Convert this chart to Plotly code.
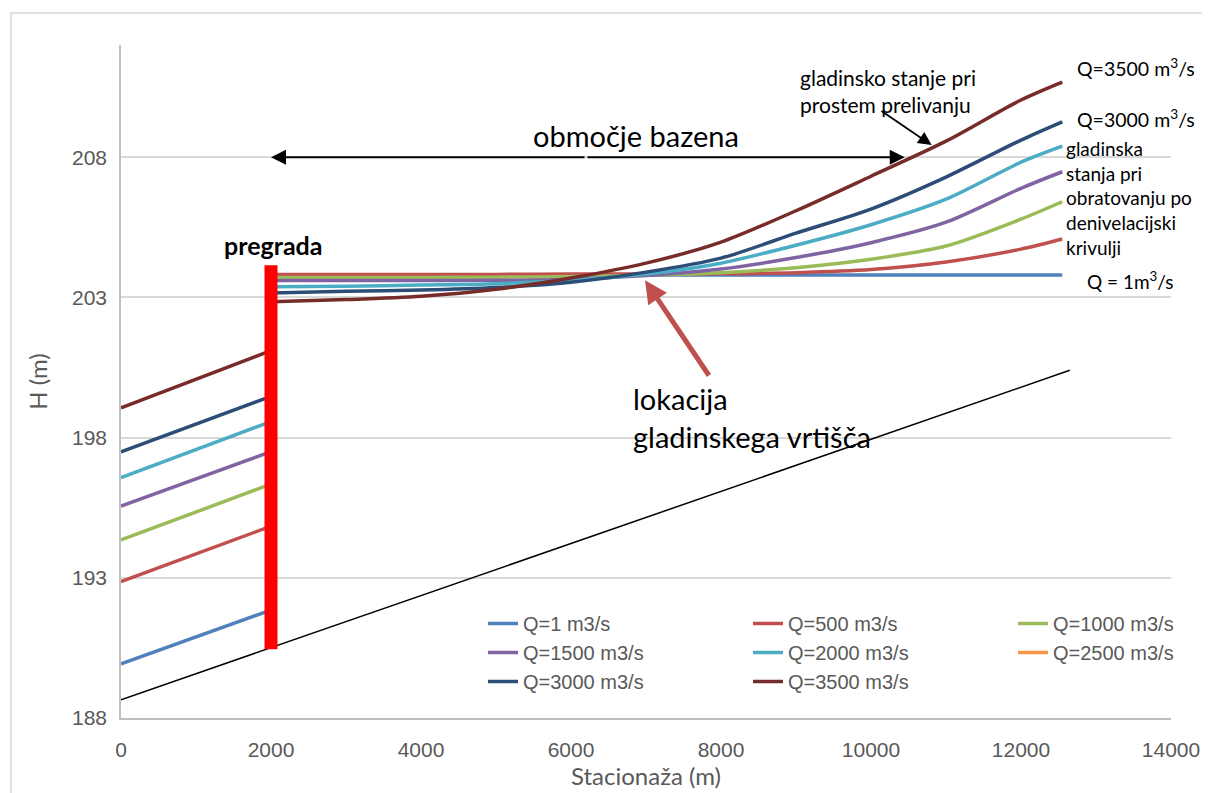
import plotly.graph_objects as go

# ---- data ----
down_x = [0, 2000]
up_x = [2000, 3000, 4000, 5000, 6000, 7000, 8000, 9000, 10000, 11000, 12000, 12550]

names = ["Q=1 m3/s", "Q=500 m3/s", "Q=1000 m3/s", "Q=1500 m3/s", "Q=2000 m3/s",
         "Q=2500 m3/s", "Q=3000 m3/s", "Q=3500 m3/s"]
colors = ["#4f81bd", "#c0504d", "#9bbb59", "#8064a2", "#4bacc6", "#f79646", "#2c4d75", "#772c2a"]

q1_down = [189.93, 191.85]
q1_up = [203.80, 203.80, 203.80, 203.80, 203.80, 203.80, 203.80, 203.80, 203.80, 203.80, 203.80, 203.80]
q500_down = [192.86, 194.84]
q500_up = [203.82, 203.82, 203.82, 203.82, 203.83, 203.83, 203.84, 203.88, 203.99, 204.26, 204.72, 205.08]
q1000_down = [194.35, 196.34]
q1000_up = [203.71, 203.71, 203.71, 203.72, 203.74, 203.79, 203.88, 204.06, 204.36, 204.83, 205.79, 206.41]
q1500_down = [195.56, 197.50]
q1500_up = [203.60, 203.60, 203.60, 203.61, 203.65, 203.78, 204.01, 204.42, 204.95, 205.68, 206.89, 207.48]
q2000_down = [196.57, 198.57]
q2000_up = [203.38, 203.40, 203.44, 203.49, 203.61, 203.83, 204.22, 204.86, 205.59, 206.50, 207.82, 208.39]
q2500_down = [None]
q2500_up = [None]
q3000_down = [197.49, 199.47]
q3000_up = [203.16, 203.22, 203.26, 203.35, 203.54, 203.90, 204.40, 205.29, 206.15, 207.29, 208.61, 209.26]
q3500_down = [199.06, 201.10]
q3500_up = [202.84, 202.92, 203.04, 203.29, 203.69, 204.22, 204.97, 206.09, 207.32, 208.57, 210.04, 210.68]

series_down = [q1_down, q500_down, q1000_down, q1500_down, q2000_down, q2500_down, q3000_down, q3500_down]
series_up = [q1_up, q500_up, q1000_up, q1500_up, q2000_up, q2500_up, q3000_up, q3500_up]

bed_x = [0, 12650]
bed_y = [188.65, 200.40]

dam_x = [2000, 2000]
dam_y = [190.45, 204.15]

y_ticks = [188, 193, 198, 203, 208]

TICK_FONT = "Liberation Sans Narrow, Arial Narrow, sans-serif"
TEXT_FONT = "Lato, Carlito, Calibri, sans-serif"
GRAY = "#595959"

fig = go.Figure()

for name, col, d, u in zip(names, colors, series_down, series_up):
    if len(d) == len(down_x):
        # downstream of the dam (straight segment)
        fig.add_trace(go.Scatter(x=down_x, y=d, mode="lines", name=name,
                                 showlegend=False, line=dict(color=col, width=3.5)))
        # reservoir (smoothed)
        fig.add_trace(go.Scatter(x=up_x, y=u, mode="lines", name=name,
                                 line=dict(color=col, width=3.5, shape="spline", smoothing=0.8)))
    else:
        fig.add_trace(go.Scatter(x=[None], y=d, mode="lines", name=name,
                                 line=dict(color=col, width=3.5)))

fig.add_trace(go.Scatter(x=bed_x, y=bed_y, mode="lines", showlegend=False,
                         line=dict(color="black", width=1.5)))
fig.add_trace(go.Scatter(x=dam_x, y=dam_y, mode="lines", showlegend=False,
                         line=dict(color="#ff0000", width=13)))

ann = []
# double arrow "območje bazena"
ann.append(dict(x=2000, y=208, ax=6200, ay=208, xref="x", yref="y", axref="x", ayref="y",
                showarrow=True, arrowhead=2, arrowsize=1.5, arrowwidth=2, arrowcolor="black", text=""))
ann.append(dict(x=10450, y=208, ax=6200, ay=208, xref="x", yref="y", axref="x", ayref="y",
                showarrow=True, arrowhead=2, arrowsize=1.5, arrowwidth=2, arrowcolor="black", text=""))
# arrow to prosto prelivanje
ann.append(dict(x=10809, y=208.43, ax=10120, ay=209.68, xref="x", yref="y", axref="x", ayref="y",
                showarrow=True, arrowhead=2, arrowsize=1.5, arrowwidth=1.8, arrowcolor="black", text=""))
# red arrow to pivot
ann.append(dict(x=6987, y=203.61, ax=7853, ay=200.16, xref="x", yref="y", axref="x", ayref="y",
                showarrow=True, arrowhead=2, arrowsize=0.9, arrowwidth=5, arrowcolor="#c0504d", text=""))

def label(txt, x, y, size, bold=False, color="black"):
    return dict(x=x, y=y, xref="x", yref="y", text=("<b>%s</b>" % txt) if bold else txt,
                showarrow=False, xanchor="left", yanchor="middle", align="left",
                font=dict(family=TEXT_FONT, size=size, color=color))

ann.append(label("območje bazena", 5467, 208.78, 29))
ann.append(label("gladinsko stanje pri<br>prostem prelivanju", 9027, 210.35, 21))
ann.append(label("Q=3500 m<sup>3</sup>/s", 12720, 211.21, 19.5))
ann.append(label("Q=3000 m<sup>3</sup>/s", 12720, 209.39, 19.5))
ann.append(label("gladinska<br>stanja pri<br>obratovanju po<br>denivelacijski<br>krivulji", 12573, 206.54, 19))
ann.append(label("Q = 1m<sup>3</sup>/s", 12853, 203.61, 19))
ann.append(label("pregrada", 1347, 204.86, 25, bold=True))
ann.append(label("lokacija<br>gladinskega vrtišča", 6800, 198.70, 29))

# page body has an 8px margin, so the figure is drawn 8px in from the top-left corner
fig.update_layout(
    width=1202, height=785,
    margin=dict(l=113, r=39, t=37, b=75, autoexpand=False),
    paper_bgcolor="white", plot_bgcolor="white",
    showlegend=True,
    legend=dict(orientation="h", x=(469 - 121 + 14) / 1050, y=(718 - 604) / 673,
                xanchor="left", yanchor="top",
                entrywidth=220, entrywidthmode="pixels", tracegroupgap=0,
                bgcolor="rgba(0,0,0,0)",
                font=dict(family=TICK_FONT, size=20, color=GRAY)),
    annotations=ann,
    shapes=[dict(type="rect", xref="paper", yref="paper",
                 x0=(3 - 113) / 1050, x1=(1207 - 113) / 1050,
                 y0=(710 - 800) / 673, y1=(710 - 5) / 673,
                 line=dict(color="#d9d9d9", width=1.5), fillcolor="rgba(0,0,0,0)", layer="below")],
)

fig.update_xaxes(range=[0, 14000], dtick=2000, tick0=0, tickformat="d", showgrid=False, zeroline=False,
                 showline=True, linecolor="#bfbfbf", linewidth=1.5, ticks="",
                 ticklabelstandoff=12,
                 tickfont=dict(family=TICK_FONT, size=21, color=GRAY),
                 title=dict(text="Stacionaža (m)", standoff=8,
                            font=dict(family=TEXT_FONT, size=24, color=GRAY)))
fig.update_yaxes(range=[188, 212], tickvals=y_ticks, showgrid=True, gridcolor="#d9d9d9", gridwidth=1.5,
                 zeroline=False, showline=True, linecolor="#bfbfbf", linewidth=1.5, ticks="",
                 ticklabelstandoff=8,
                 tickfont=dict(family=TICK_FONT, size=21, color=GRAY),
                 title=dict(text="H (m)", standoff=18,
                            font=dict(family=TEXT_FONT, size=24, color=GRAY)))

fig.write_html("out.html")
